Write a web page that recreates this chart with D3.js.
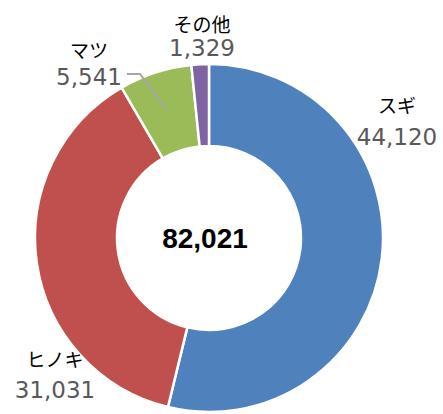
<!DOCTYPE html>
<html><head><meta charset="utf-8">
<script src="https://cdn.jsdelivr.net/npm/d3@7"></script>
<style>body{margin:0;background:#fff}</style>
</head><body>
<svg id="c" width="443" height="414"></svg>
<script>
const categories = ["スギ", "ヒノキ", "マツ", "その他"];
const values = [44120, 31031, 5541, 1329];
const colors = ["#4F81BD", "#C0504D", "#9BBB59", "#8064A2"];
const totalLabel = "82,021";

const svg = d3.select("#c");
const cx = 209, cy = 238, R = 174, r = 92;
const g = svg.append("g").attr("transform", `translate(${cx},${cy})`);
const pie = d3.pie().sort(null).value(d => d)(values);
const arc = d3.arc().innerRadius(r).outerRadius(R);
g.selectAll("path").data(pie).join("path")
  .attr("d", arc).attr("fill", (d, i) => colors[i])
  .attr("stroke", "#fff").attr("stroke-width", 2.5);

// leader line for マツ
svg.append("polyline").attr("points", "127,74 140,74 167,110")
  .attr("fill", "none").attr("stroke", "#A6A6A6").attr("stroke-width", 2);

const fmt = d3.format(",");
const labelPos = [
  {x: 397, yn: 113, yv: 145},
  {x: 55, yn: 367, yv: 398},
  {x: 89, yn: 58, yv: 85},
  {x: 202, yn: 32, yv: 56}
];
categories.forEach((c, i) => {
  const p = labelPos[i];
  svg.append("text").attr("x", p.x).attr("y", p.yn).attr("text-anchor", "middle")
    .attr("font-family", "Noto Sans CJK JP").attr("font-size", 19).attr("fill", "#000").text(c);
  svg.append("text").attr("x", p.x).attr("y", p.yv).attr("text-anchor", "middle")
    .attr("font-family", "DejaVu Sans").attr("font-size", 23).attr("fill", "#595959").text(fmt(values[i]));
});
svg.append("text").attr("x", 205).attr("y", 248).attr("text-anchor", "middle")
  .attr("font-family", "Liberation Sans").attr("font-weight", "bold").attr("font-size", 28)
  .attr("fill", "#000").text(totalLabel);
</script>
</body></html>
